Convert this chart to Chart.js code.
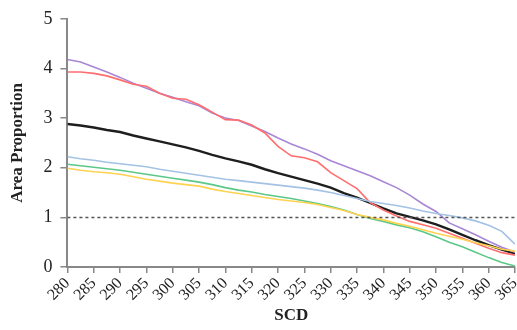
<!DOCTYPE html>
<html>
<head>
<meta charset="utf-8">
<script src="https://cdn.jsdelivr.net/npm/chart.js@4.4.1/dist/chart.umd.min.js"></script>
<style>
  html, body { margin: 0; padding: 0; background: #fff; }
  #wrap { width: 517px; height: 330px; }
</style>
</head>
<body>
<div id="wrap"><canvas id="chart" width="517" height="330"></canvas></div>
<script>
// SCD values (x positions of the samples)
const scd = [280, 282.5, 285, 287.5, 290, 292.5, 295, 297.5, 300, 302.5, 305, 307.5,
  310, 312.5, 315, 317.5, 320, 322.5, 325, 327.5, 330, 332.5, 335, 337.5,
  340, 342.5, 345, 347.5, 350, 352.5, 355, 357.5, 360, 362.5, 365];

// area proportion per series
const purpleVals = [4.18, 4.13, 4.03, 3.93, 3.82, 3.70, 3.60, 3.50, 3.42, 3.33, 3.25, 3.10,
  3.00, 2.95, 2.84, 2.73, 2.60, 2.48, 2.38, 2.27, 2.14, 2.04, 1.94, 1.84,
  1.72, 1.60, 1.45, 1.27, 1.12, 0.89, 0.77, 0.65, 0.52, 0.40, 0.30];
const redVals = [3.93, 3.93, 3.90, 3.85, 3.77, 3.68, 3.64, 3.50, 3.40, 3.38, 3.27, 3.12,
  2.97, 2.96, 2.86, 2.70, 2.43, 2.24, 2.20, 2.12, 1.90, 1.74, 1.58, 1.30,
  1.15, 1.03, 0.92, 0.85, 0.78, 0.68, 0.58, 0.48, 0.38, 0.29, 0.24];
const blackVals = [2.88, 2.85, 2.81, 2.76, 2.72, 2.65, 2.59, 2.53, 2.47, 2.41, 2.34, 2.26,
  2.19, 2.13, 2.06, 1.97, 1.89, 1.82, 1.75, 1.68, 1.60, 1.49, 1.40, 1.29,
  1.18, 1.08, 1.01, 0.94, 0.86, 0.76, 0.65, 0.54, 0.44, 0.35, 0.27];
const blueVals = [2.22, 2.18, 2.15, 2.11, 2.08, 2.05, 2.02, 1.97, 1.93, 1.89, 1.85, 1.81,
  1.77, 1.74, 1.71, 1.68, 1.65, 1.62, 1.59, 1.55, 1.50, 1.44, 1.38, 1.32,
  1.28, 1.24, 1.19, 1.13, 1.08, 1.04, 0.99, 0.93, 0.84, 0.72, 0.46];
const greenVals = [2.07, 2.04, 2.01, 1.98, 1.95, 1.91, 1.87, 1.83, 1.79, 1.75, 1.71, 1.66,
  1.60, 1.55, 1.51, 1.46, 1.42, 1.38, 1.33, 1.28, 1.22, 1.15, 1.06, 0.98,
  0.92, 0.85, 0.79, 0.71, 0.61, 0.50, 0.41, 0.30, 0.19, 0.09, 0.02];
const yellowVals = [1.99, 1.95, 1.92, 1.90, 1.87, 1.82, 1.77, 1.73, 1.69, 1.66, 1.63, 1.57,
  1.52, 1.48, 1.44, 1.40, 1.36, 1.33, 1.30, 1.26, 1.20, 1.14, 1.06, 1.00,
  0.95, 0.88, 0.82, 0.75, 0.68, 0.62, 0.56, 0.49, 0.43, 0.36, 0.32];

// reference line at 1
const refX = [280, 365];
const refVals = [1, 1];

const yTicks = [0, 1, 2, 3, 4, 5];

function pts(xs, ys) {
  return xs.map((x, i) => ({ x: x, y: ys[i] }));
}

function line(vals, color, width) {
  return {
    data: pts(scd, vals),
    borderColor: color,
    borderWidth: width,
    pointRadius: 0,
    tension: 0,
    fill: false,
  };
}

const serif = "'Liberation Serif', 'DejaVu Serif', serif";

const ctx = document.getElementById("chart").getContext("2d");
new Chart(ctx, {
  type: "line",
  data: {
    datasets: [
      {
        data: pts(refX, refVals),
        borderColor: "#555",
        borderWidth: 1.5,
        borderDash: [3, 3],
        pointRadius: 0,
      },
      line(yellowVals, "#FFD24F", 1.6),
      line(greenVals, "#5CC888", 1.6),
      line(blueVals, "#A3C2E4", 1.6),
      line(redVals, "#FF6E6E", 1.6),
      line(purpleVals, "#A986D6", 1.6),
      line(blackVals, "#1E1E1E", 2.4),
    ],
  },
  options: {
    responsive: false,
    animation: false,
    layout: { padding: { top: 10, right: 2, left: 7, bottom: 4 } },
    plugins: {
      legend: { display: false },
      tooltip: { enabled: false },
    },
    scales: {
      x: {
        type: "linear",
        min: 280,
        max: 365,
        afterFit: (scale) => {
          // the 365 label runs off the edge in the original, so don't reserve room for it
          scale.paddingRight = 0;
        },
        grid: { drawOnChartArea: false, drawTicks: true, tickLength: 6, color: "#888", lineWidth: 1.5 },
        border: { display: true, color: "#888", width: 2 },
        ticks: {
          stepSize: 5,
          autoSkip: false,
          minRotation: 45,
          maxRotation: 45,
          color: "#222",
          font: { family: serif, size: 16 },
          padding: 1,
        },
        title: {
          display: true,
          text: "SCD",
          color: "#222",
          font: { family: serif, size: 17, weight: "bold" },
          padding: { top: 0, bottom: 0 },
        },
      },
      y: {
        min: 0,
        max: 5,
        afterBuildTicks: (axis) => {
          axis.ticks = yTicks.map((v) => ({ value: v }));
        },
        grid: { drawOnChartArea: false, drawTicks: true, tickLength: 7, color: "#888", lineWidth: 1.5 },
        border: { display: true, color: "#888", width: 2 },
        ticks: {
          color: "#222",
          font: { family: serif, size: 18 },
          padding: 8,
        },
        title: {
          display: true,
          text: "Area Proportion",
          color: "#222",
          font: { family: serif, size: 17, weight: "bold" },
          padding: { top: 0, bottom: 8 },
        },
      },
    },
  },
});
</script>
</body>
</html>
